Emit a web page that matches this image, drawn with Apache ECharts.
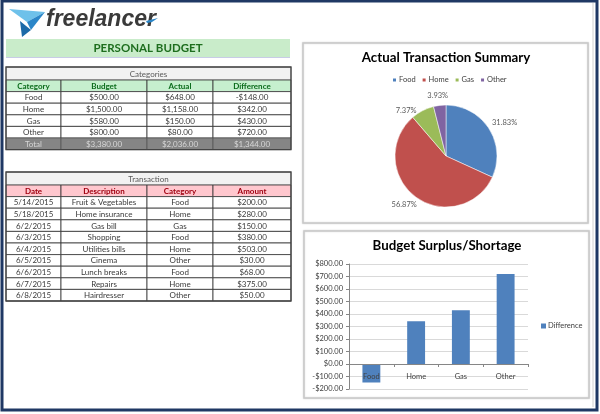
<!DOCTYPE html>
<html><head><meta charset="utf-8">
<script src="https://cdn.jsdelivr.net/npm/echarts@6/dist/echarts.min.js"></script>
<style>html,body{margin:0;padding:0;background:#fff}#c{width:600px;height:414px}</style>
</head><body><div id="c"></div>
<script>
// ---- data ----
const categories = ['Food', 'Home', 'Gas', 'Other'];
const budget = [500, 1500, 580, 800];
const actual = [648, 1158, 150, 80];
const difference = [-148, 342, 430, 720];

const txDates = ['5/14/2015','5/18/2015','6/2/2015','6/3/2015','6/4/2015','6/5/2015','6/6/2015','6/7/2015','6/8/2015'];
const txDescriptions = ['Fruit & Vegetables','Home insurance','Gas bill','Shopping','Utilities bills','Cinema','Lunch breaks','Repairs','Hairdresser'];
const txCategories = ['Food','Home','Gas','Food','Home','Other','Food','Home','Other'];
const txAmounts = [200, 280, 150, 380, 503, 30, 68, 375, 50];

const yTicks = { min: -200, max: 800, interval: 100 };

// ---- helpers ----
const FONT = 'Lato, "Open Sans", sans-serif';
function money(v) {
  const s = '$' + Math.abs(v).toLocaleString('en-US', {minimumFractionDigits: 2, maximumFractionDigits: 2});
  return v < 0 ? '-' + s : s;
}
const sum = a => a.reduce((p, c) => p + c, 0);

const els = [];
// outer frame (background layer)
els.push({type:'rect', shape:{x:2, y:1, width:595, height:409}, style:{fill:'#fff', stroke:'#1f3864', lineWidth:3}, z:-10});
els.push({type:'line', shape:{x1:593, y1:3, x2:593, y2:407}, style:{stroke:'#d0d0d0', lineWidth:1}, z:-9});

// logo bird
els.push({type:'polygon', shape:{points:[[9,9],[45,12],[27,22]]}, style:{fill:'#6ec1ea'}, z:1});
els.push({type:'polygon', shape:{points:[[27,22],[45,12],[31,30]]}, style:{fill:'#2b86c8'}, z:1});
els.push({type:'polygon', shape:{points:[[20,21],[31,30],[22,37]]}, style:{fill:'#1d6aa8'}, z:1});
els.push({type:'text', x:46, y:31, style:{text:'freelancer', fill:'#3a3a3a', font:'italic bold 23px "Liberation Sans Narrow", "Liberation Sans", sans-serif', textAlign:'left', textVerticalAlign:'bottom'}, z:1});
els.push({type:'polygon', shape:{points:[[146,21],[158,18],[152,22],[147,23]]}, style:{fill:'#2b86c8'}, z:1});

// banner
els.push({type:'rect', shape:{x:6, y:39, width:284, height:18}, style:{fill:'#c9ecca'}, z:1});
els.push({type:'line', shape:{x1:6, y1:57.5, x2:290, y2:57.5}, style:{stroke:'#c8cce6', lineWidth:1}, z:1});
els.push({type:'text', x:148, y:48, style:{text:'PERSONAL BUDGET', fill:'#1e6e1e', font:'bold 11.5px ' + FONT, textAlign:'center', textVerticalAlign:'middle'}, z:2});

// tables
const colX = [6, 61, 147, 213, 291];
const ROWH = 11.6;
function cell(x0, x1, y0, y1, fill, text, color, bold, stroke) {
  els.push({type:'rect', shape:{x:x0, y:y0, width:x1-x0, height:y1-y0}, style:{fill, stroke: stroke || '#333', lineWidth:0.8}, z:1});
  if (text != null) els.push({type:'text', x:(x0+x1)/2, y:(y0+y1)/2 + 0.5, style:{text, fill:color, font:(bold ? 'bold ' : '') + '8px ' + FONT, textAlign:'center', textVerticalAlign:'middle'}, z:2});
}
function table(top, title, headers, headFill, headColor, rows, totalRow) {
  cell(colX[0], colX[4], top, top + 13, '#f2f2f2', title, '#595959', false, '#888');
  let y = top + 13;
  headers.forEach((h, i) => cell(colX[i], colX[i+1], y, y + ROWH, headFill, h, headColor, true));
  y += ROWH;
  rows.forEach(r => { r.forEach((t, i) => cell(colX[i], colX[i+1], y, y + ROWH, '#fff', t, '#3a3a3a', false)); y += ROWH; });
  if (totalRow) { totalRow.forEach((t, i) => cell(colX[i], colX[i+1], y, y + ROWH, '#858585', t, '#d6d6d6', false, '#555')); y += ROWH; }
  els.push({type:'rect', shape:{x:colX[0], y:top, width:colX[4]-colX[0], height:y-top}, style:{fill:null, stroke:'#444', lineWidth:1.3}, z:3});
}
table(67, 'Categories', ['Category','Budget','Actual','Difference'], '#c6efce', '#0b6b1b',
  categories.map((c, i) => [c, money(budget[i]), money(actual[i]), money(difference[i])]),
  ['Total', money(sum(budget)), money(sum(actual)), money(sum(difference))]);
table(172, 'Transaction', ['Date','Description','Category','Amount'], '#ffc7ce', '#a00010',
  txDates.map((d, i) => [d, txDescriptions[i], txCategories[i], money(txAmounts[i])]), null);

// chart panels (background layer, under axes)
els.push({type:'rect', shape:{x:303, y:43, width:285, height:180}, style:{fill:'#fff', stroke:'#c8c8c8', lineWidth:1.5, shadowBlur:2, shadowColor:'rgba(0,0,0,0.15)'}, z:-5});
els.push({type:'rect', shape:{x:304, y:231, width:285, height:167}, style:{fill:'#fff', stroke:'#c8c8c8', lineWidth:1.5, shadowBlur:2, shadowColor:'rgba(0,0,0,0.15)'}, z:-5});

// bar grid geometry
const GRID = {left:349, right:72, top:264, bottom:25};
const gridH = 414 - GRID.top - GRID.bottom;
const zeroOffset = -(0 - yTicks.min) * gridH / (yTicks.max - yTicks.min);

const chart = echarts.init(document.getElementById('c'), null, {renderer:'canvas'});
chart.setOption({
  animation: false,
  textStyle: {fontFamily: FONT},
  graphic: {elements: els},
  title: [
    {text:'Actual Transaction Summary', left:446, top:51, padding:0, textAlign:'center', textStyle:{fontSize:13.3, fontWeight:'bold', color:'#000', fontFamily:FONT}},
    {text:'Budget Surplus/Shortage', left:447, top:239, padding:0, textAlign:'center', textStyle:{fontSize:13.3, fontWeight:'bold', color:'#000', fontFamily:FONT}}
  ],
  legend: [
    {data: categories, left:391, top:76, padding:0, itemWidth:5, itemHeight:5, itemGap:5, icon:'rect', textStyle:{fontSize:7.5, color:'#404040', padding:[0,0,0,-3]}, selectedMode:false},
    {data: ['Difference'], left:541, top:322, padding:0, itemWidth:5, itemHeight:5, icon:'rect', textStyle:{fontSize:7.5, color:'#404040', padding:[0,0,0,-3]}, selectedMode:false}
  ],
  color: ['#4f81bd', '#c0504d', '#9bbb59', '#8064a2'],
  grid: GRID,
  xAxis: {
    type:'category', data: categories, z:5,
    offset: zeroOffset,
    axisLine:{onZero:false, lineStyle:{color:'#868686'}},
    axisTick:{show:true, length:3, lineStyle:{color:'#868686'}},
    axisLabel:{fontSize:7.5, color:'#404040', margin:9}
  },
  yAxis: {
    type:'value', min: yTicks.min, max: yTicks.max, interval: yTicks.interval,
    axisLine:{show:true, lineStyle:{color:'#868686'}},
    axisTick:{show:true, length:3, lineStyle:{color:'#868686'}},
    splitLine:{lineStyle:{color:'#d9d9d9'}},
    axisLabel:{fontSize:7.5, color:'#404040', margin:6, formatter: v => money(v)}
  },
  series: [
    {type:'pie', name:'Actual', center:[446,156], radius:51, startAngle:90, clockwise:true,
     data: categories.map((c, i) => ({name:c, value:actual[i]})),
     label:{show:true, position:'outside', formatter:'{d}%', fontSize:7.5, color:'#595959'},
     labelLine:{show:true, length:5, length2:0, lineStyle:{opacity:0}},
     labelLayout: function (p) {
       const pts = p.labelLinePoints;
       if (!pts || pts.length < 2) return {};
       let dx = pts[1][0] - pts[0][0], dy = pts[1][1] - pts[0][1];
       const len = Math.hypot(dx, dy) || 1; dx /= len; dy /= len;
       const hw = p.labelRect.width / 2, hh = p.labelRect.height / 2;
       return {x: pts[0][0] + dx * 6 + dx * hw, y: pts[0][1] + dy * 6 + dy * hh, align:'center', verticalAlign:'middle'};
     },
     itemStyle:{borderColor:'#fff', borderWidth:0.5},
     emphasis:{disabled:true}},
    {type:'bar', name:'Difference', data: difference, barWidth:'40%', itemStyle:{color:'#4f81bd'}}
  ]
});
</script>
</body></html>
